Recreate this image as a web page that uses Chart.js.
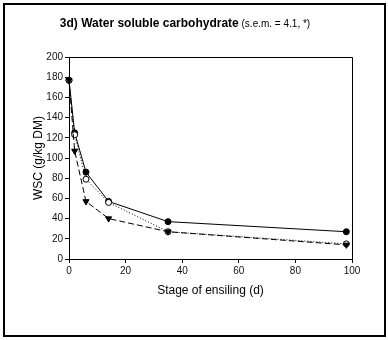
<!DOCTYPE html>
<meta charset="utf-8">
<head>
  <title>Water soluble carbohydrate</title>
  <style>
    html, body { margin: 0; padding: 0; background: #fff; }
    .container { width: 388px; height: 340px; }
  </style>
</head>
<body>
<div class="container">
  <canvas id="chart" width="388" height="340"></canvas>
</div>
<script src="https://cdn.jsdelivr.net/npm/chart.js"></script>
<script>
  // stage of ensiling (days)
  var days = [0, 2, 6, 14, 35, 98];
  // WSC g/kg DM, three treatments
  var seriesSolid = [177, 125, 86, 57, 37, 27];
  var seriesDotted = [177, 123, 79, 56, 27, 15];
  var seriesDashed = [177, 107, 57, 40, 27, 14];
  var yTicks = [0, 20, 40, 60, 80, 100, 120, 140, 160, 180, 200];
  var xTicks = [0, 20, 40, 60, 80, 100];

  function pts(vals) {
    return days.map(function(d, i) { return { x: d, y: vals[i] }; });
  }

  var frame = {
    id: 'frame',
    afterDraw: function(chart) {
      var ctx = chart.ctx, a = chart.chartArea;
      ctx.save();
      ctx.strokeStyle = '#000';
      // outer box
      ctx.lineWidth = 2;
      ctx.strokeRect(4, 4, 381, 332);
      // top and right edges of the plot frame
      ctx.lineWidth = 1;
      ctx.beginPath();
      ctx.moveTo(Math.round(a.left) + 0.5, Math.round(a.top) + 0.5);
      ctx.lineTo(Math.round(a.right) + 0.5, Math.round(a.top) + 0.5);
      ctx.lineTo(Math.round(a.right) + 0.5, Math.round(a.bottom) + 0.5);
      ctx.stroke();
      // title with mixed fonts
      var t1 = '3d) Water soluble carbohydrate';
      var t2 = ' (s.e.m. = 4.1, *)';
      ctx.fillStyle = '#000';
      ctx.textBaseline = 'alphabetic';
      ctx.font = 'bold 12px "Liberation Sans", Arial, sans-serif';
      var w1 = ctx.measureText(t1).width;
      ctx.font = '10px "Liberation Sans", Arial, sans-serif';
      var w2 = ctx.measureText(t2).width;
      var x0 = 185 - (w1 + w2) / 2;
      ctx.font = 'bold 12px "Liberation Sans", Arial, sans-serif';
      ctx.fillText(t1, x0, 27);
      ctx.font = '10px "Liberation Sans", Arial, sans-serif';
      ctx.fillText(t2, x0 + w1, 27);
      ctx.restore();
    }
  };

  Chart.defaults.font.family = '"Liberation Sans", Arial, sans-serif';
  Chart.defaults.color = '#000';

  var chart = new Chart('chart', {
    type: 'line',
    data: {
      datasets: [
        {
          data: pts(seriesDashed),
          borderColor: '#000', borderWidth: 1, borderDash: [6, 3],
          pointStyle: 'triangle', rotation: 180, pointRadius: 3.5,
          pointBackgroundColor: '#000', pointBorderColor: '#000',
          tension: 0, clip: false
        },
        {
          data: pts(seriesDotted),
          borderColor: '#000', borderWidth: 1, borderDash: [1, 2],
          pointStyle: 'circle', pointRadius: 3,
          pointBackgroundColor: '#fff', pointBorderColor: '#000',
          tension: 0, clip: false
        },
        {
          data: pts(seriesSolid),
          borderColor: '#000', borderWidth: 1,
          pointStyle: 'circle', pointRadius: 3,
          pointBackgroundColor: '#000', pointBorderColor: '#000',
          tension: 0, clip: false
        }
      ]
    },
    options: {
      responsive: false,
      animation: false,
      layout: { padding: { left: 27, right: 36, top: 57, bottom: 38 } },
      plugins: { legend: { display: false }, tooltip: { enabled: false } },
      scales: {
        x: {
          type: 'linear', min: 0, max: 100,
          afterBuildTicks: function(s) { s.ticks = xTicks.map(function(v) { return { value: v }; }); },
          afterFit: function(s) { s.height = 43; },
          grid: { drawOnChartArea: false, drawTicks: true, tickLength: 4, color: '#000' },
          border: { display: true, color: '#000', width: 1 },
          ticks: { font: { size: 10 }, padding: 2, color: '#111' },
          title: { display: true, text: 'Stage of ensiling (d)', font: { size: 12 }, color: '#000' }
        },
        y: {
          min: 0, max: 200,
          afterBuildTicks: function(s) { s.ticks = yTicks.map(function(v) { return { value: v }; }); },
          afterFit: function(s) { s.width = 42; },
          grid: { drawOnChartArea: false, drawTicks: true, tickLength: 4, color: '#000' },
          border: { display: true, color: '#000', width: 1 },
          ticks: { font: { size: 10 }, padding: 2, color: '#111' },
          title: { display: true, text: 'WSC (g/kg DM)', font: { size: 12 }, color: '#000' }
        }
      }
    },
    plugins: [frame]
  });
</script>
</body>
</html>
